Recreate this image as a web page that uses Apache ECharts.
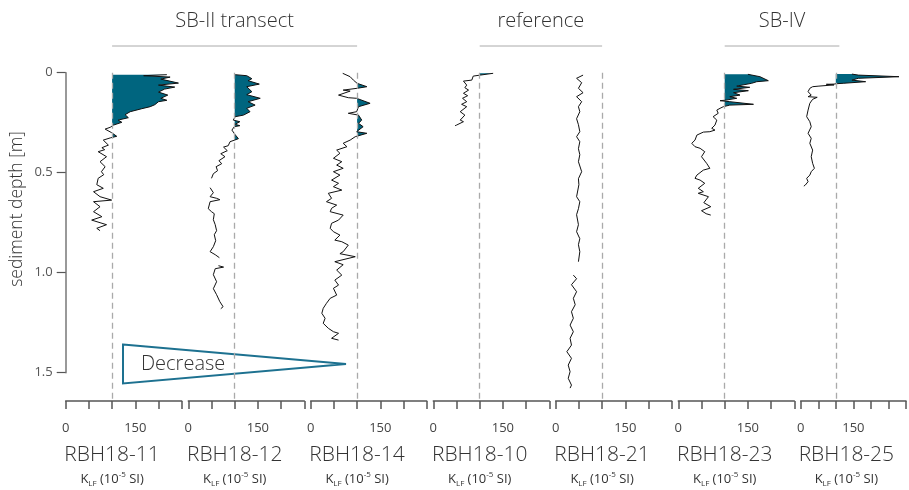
<!DOCTYPE html>
<html>
<head>
<meta charset="utf-8">
<script src="https://cdn.jsdelivr.net/npm/echarts@6/dist/echarts.min.js"></script>
<style>
  html, body { margin: 0; padding: 0; background: #fff; }
  #chart { width: 909px; height: 490px; }
</style>
</head>
<body>
<div id="chart"></div>
<script>
// core names and K_LF profiles, [K_LF, depth m]; null = gap in record
var cores = ['RBH18-11', 'RBH18-12', 'RBH18-14', 'RBH18-10', 'RBH18-21', 'RBH18-23', 'RBH18-25'];
var xMaxes = [250, 250, 250, 250, 250, 250, 300];
var xTickLabels = ['0', '150'];
var depthTicks = ['0', '0.5', '1.0', '1.5'];
var baseLine = 100;

var rbh11 = [[218,0.010],[168,0.015],[225,0.022],[205,0.032],[243,0.052],[200,0.062],[235,0.072],[213,0.082],[200,0.097],[220,0.112],[205,0.128],[218,0.138],[200,0.145],[192,0.160],[182,0.170],[164,0.180],[139,0.195],[128,0.210],[135,0.225],[113,0.237],[121,0.248],[103,0.262],[96,0.273],[85,0.282],[99,0.300],[110,0.318],[96,0.326],[81,0.337],[92,0.362],[78,0.375],[84,0.385],[70,0.395],[88,0.420],[74,0.445],[85,0.470],[77,0.495],[82,0.510],[70,0.528],[67,0.560],[81,0.578],[60,0.595],[74,0.620],[99,0.637],[60,0.645],[74,0.670],[60,0.695],[78,0.720],[56,0.737],[88,0.760],[67,0.778],[74,0.790]];
var rbh12 = [[101,0.010],[126,0.015],[137,0.030],[129,0.040],[153,0.057],[126,0.070],[137,0.095],[126,0.110],[155,0.128],[129,0.145],[144,0.162],[126,0.178],[133,0.195],[119,0.212],[101,0.220],[97,0.237],[111,0.245],[101,0.258],[111,0.265],[99,0.270],[94,0.287],[101,0.310],[108,0.330],[90,0.345],[86,0.365],[76,0.372],[84,0.390],[70,0.405],[79,0.420],[66,0.440],[72,0.455],[60,0.470],[63,0.490],[54,0.505],[50,0.528],null,[47,0.575],[54,0.600],[47,0.620],[61,0.628],[68,0.635],[47,0.645],[43,0.680],[50,0.695],[56,0.705],[54,0.735],[58,0.760],[61,0.790],[56,0.810],[59,0.840],[54,0.870],[47,0.895],[58,0.910],[67,0.925],null,[65,0.965],[76,0.972],[58,0.980],[54,1.010],[61,1.045],[54,1.080],[61,1.110],[68,1.145],[75,1.170],[70,1.180]];
var rbh14 = [[69,0.003],[85,0.020],[92,0.037],[100,0.053],[121,0.070],[100,0.078],[70,0.087],[85,0.092],[60,0.112],[63,0.120],[81,0.125],[99,0.128],[128,0.153],[103,0.170],[99,0.195],[81,0.203],[103,0.212],[110,0.237],[103,0.253],[113,0.270],[99,0.295],[121,0.303],[96,0.320],[85,0.337],[70,0.353],[78,0.370],[56,0.387],[63,0.403],[49,0.428],[67,0.445],[56,0.462],[70,0.478],[49,0.495],[63,0.512],[45,0.537],[60,0.553],[49,0.570],[67,0.587],[38,0.603],[45,0.628],[34,0.645],[56,0.662],[45,0.678],[42,0.695],[70,0.712],[60,0.737],[45,0.753],[42,0.778],[49,0.795],[63,0.812],[52,0.837],[67,0.845],[81,0.862],[70,0.895],[63,0.905],[96,0.920],[52,0.945],[70,0.960],[56,0.987],[67,1.012],[52,1.037],[60,1.062],[49,1.078],[56,1.112],[42,1.128],[34,1.153],[27,1.178],[24,1.203],[31,1.228],[27,1.253],[38,1.278],[49,1.295],[60,1.303],[45,1.328],[60,1.337]];
var rbh10 = [[129,0.003],[101,0.012],[86,0.017],[83,0.037],[65,0.042],[72,0.062],[68,0.075],[76,0.087],[65,0.103],[74,0.115],[63,0.128],[72,0.145],[61,0.158],[72,0.170],[58,0.195],[68,0.212],[58,0.237],[65,0.245],[50,0.262],[47,0.265]];
var rbh21 = [[59,0.012],[45,0.028],[56,0.050],[49,0.078],[59,0.100],[45,0.120],[56,0.145],[49,0.170],[52,0.195],[45,0.230],[49,0.260],[52,0.295],[45,0.320],[52,0.345],[49,0.380],[52,0.410],[49,0.445],[56,0.495],[49,0.530],[50,0.560],[45,0.620],[52,0.645],[49,0.680],[45,0.710],[49,0.760],[45,0.795],[52,0.830],[49,0.860],[52,0.895],[49,0.945],null,[38,1.012],[45,1.030],[34,1.060],[45,1.095],[38,1.128],[42,1.160],[34,1.195],[38,1.228],[31,1.262],[38,1.295],[31,1.328],[34,1.362],[24,1.395],[34,1.428],[27,1.462],[31,1.495],[27,1.528],[34,1.562],[31,1.577]];
var rbh23 = [[150,0.008],[176,0.020],[194,0.040],[169,0.045],[158,0.053],[126,0.067],[154,0.073],[119,0.083],[151,0.090],[119,0.100],[133,0.112],[111,0.120],[126,0.128],[103,0.137],[90,0.140],[111,0.145],[162,0.158],[111,0.162],[97,0.170],[90,0.178],[83,0.187],[86,0.203],[75,0.220],[83,0.237],[79,0.262],[72,0.278],[79,0.287],[68,0.295],[54,0.297],[40,0.312],[36,0.337],[29,0.353],[36,0.370],[47,0.378],[57,0.395],[50,0.420],[61,0.453],[68,0.478],[54,0.487],[40,0.512],[36,0.528],[47,0.537],[57,0.553],[43,0.578],[54,0.595],[43,0.603],[65,0.620],[68,0.628],[55,0.650],[70,0.670],[50,0.690],[60,0.705],[70,0.712]];
var rbh25 = [[146,0.007],[164,0.012],[280,0.020],[164,0.028],[146,0.037],[185,0.045],[121,0.053],[102,0.055],[95,0.057],[73,0.058],[95,0.061],[52,0.067],[34,0.070],[26,0.078],[21,0.095],[30,0.112],[21,0.120],[47,0.123],[34,0.133],[26,0.153],[21,0.187],[17,0.220],[26,0.245],[30,0.270],[21,0.303],[30,0.328],[26,0.353],[34,0.387],[30,0.420],[34,0.453],[39,0.478],[30,0.495],[26,0.512],[17,0.528],[21,0.545],[13,0.562],[9,0.567]];
var profiles = [rbh11, rbh12, rbh14, rbh10, rbh21, rbh23, rbh25];

var groups = ['SB-II transect', 'reference', 'SB-IV'];
var groupSpans = [[0, 2], [3, 4], [5, 6]];

// layout
var panelLeft = [65.7, 188.3, 310.7, 433.3, 555.7, 678.3, 800.7];
var panelW = 116, gTop = 72.7, gBottom = 401, pxPerM = 200;
var teal = '#00657f';
var font = "'Open Sans', sans-serif";

// regions where K_LF exceeds the baseline, closed on the baseline
function aboveRuns(pts, base) {
  var runs = [], cur = null, prev = null;
  pts.forEach(function (p) {
    if (!p) {
      if (cur) { cur.push([base, prev[1]]); runs.push(cur); cur = null; }
      prev = null;
      return;
    }
    var up = p[0] > base;
    if (prev) {
      var prevUp = prev[0] > base;
      if (up !== prevUp) {
        var t = (base - prev[0]) / (p[0] - prev[0]);
        var d = prev[1] + t * (p[1] - prev[1]);
        if (up) cur = [[base, d]];
        else { cur.push([base, d]); runs.push(cur); cur = null; }
      }
    } else if (up) {
      cur = [[base, p[1]]];
    }
    if (up) cur.push(p);
    prev = p;
  });
  if (cur) { cur.push([base, prev[1]]); runs.push(cur); }
  return runs;
}

var grids = [], xAxes = [], yAxes = [], series = [], graphics = [];

cores.forEach(function (name, i) {
  grids.push({ left: panelLeft[i], top: gTop, width: panelW, height: gBottom - gTop });
  xAxes.push({
    gridIndex: i, type: 'value', min: 0, max: xMaxes[i], interval: 50, position: 'bottom',
    splitLine: { show: false },
    axisLine: { onZero: false, lineStyle: { color: '#555', width: 1.5 } },
    axisTick: { length: 8, lineStyle: { color: '#555', width: 1.5 } },
    axisLabel: {
      margin: 21, color: '#444', fontSize: 13, fontFamily: font,
      formatter: function (v) { return xTickLabels.indexOf(String(v)) >= 0 ? String(v) : ''; }
    }
  });
  yAxes.push({
    gridIndex: i, type: 'value', min: 0, max: (gBottom - gTop) / pxPerM, inverse: true, show: false
  });

  var runs = aboveRuns(profiles[i], baseLine);
  series.push({
    type: 'custom', xAxisIndex: i, yAxisIndex: i, z: 2, silent: true,
    data: [[baseLine, 0]],
    renderItem: function (params, api) {
      return {
        type: 'group',
        children: runs.map(function (r) {
          return { type: 'polygon', shape: { points: r.map(function (q) { return api.coord(q); }) }, style: { fill: teal } };
        })
      };
    }
  });
  series.push({
    type: 'line', xAxisIndex: i, yAxisIndex: i, z: 3, silent: true,
    showSymbol: false, symbol: 'none',
    lineStyle: { color: '#111', width: 1 },
    data: profiles[i].map(function (p) { return p ? p : ['-', '-']; }),
    markLine: {
      silent: true, symbol: 'none', label: { show: false },
      lineStyle: { color: '#aaa', type: [6, 4], width: 1.3 },
      data: [{ xAxis: baseLine }]
    }
  });

  var cx = panelLeft[i] + baseLine * panelW / xMaxes[i];
  if (i === 6) cx += 7;
  graphics.push({
    type: 'text', x: cx, y: 455,
    style: { text: name, font: '300 21px ' + font, fill: '#333', align: 'center', verticalAlign: 'middle' }
  });
  graphics.push({
    type: 'text', x: cx, y: 479,
    style: {
      text: '{k|K}{s|LF} {k|(10}{p|-5}{k| SI)}', align: 'center', verticalAlign: 'middle',
      rich: {
        k: { fontSize: 13, fontFamily: font, fill: '#333', lineHeight: 17, verticalAlign: 'middle' },
        s: { fontSize: 8, fontFamily: font, fill: '#333', lineHeight: 17, verticalAlign: 'bottom' },
        p: { fontSize: 8, fontFamily: font, fill: '#333', lineHeight: 17, verticalAlign: 'top' }
      }
    }
  });
});

// left depth axis, drawn 0 - 1.5 m only
grids.push({ left: panelLeft[0], top: gTop, width: 1, height: 1.5 * pxPerM });
xAxes.push({ gridIndex: 7, type: 'value', show: false });
yAxes.push({
  gridIndex: 7, type: 'value', min: 0, max: 1.5, interval: 0.5, inverse: true,
  splitLine: { show: false },
  axisLine: { show: true, lineStyle: { color: '#777', width: 1.5 } },
  axisTick: { length: 9, lineStyle: { color: '#555', width: 1.2 } },
  axisLabel: {
    margin: 13, color: '#555', fontSize: 13, fontFamily: font,
    formatter: function (v, idx) { return depthTicks[idx]; }
  }
});
graphics.push({
  type: 'text', x: 17, y: 209, rotation: Math.PI / 2,
  style: { text: 'sediment depth [m]', font: '300 17.5px ' + font, fill: '#333', align: 'center', verticalAlign: 'middle' }
});

// group headers
groups.forEach(function (g, k) {
  var a = groupSpans[k][0], b = groupSpans[k][1];
  var x1 = panelLeft[a] + baseLine * panelW / xMaxes[a];
  var x2 = panelLeft[b] + baseLine * panelW / xMaxes[b];
  graphics.push({ type: 'line', shape: { x1: x1, y1: 46, x2: x2, y2: 46 }, style: { stroke: '#aaa', lineWidth: 1 } });
  graphics.push({
    type: 'text', x: (x1 + x2) / 2, y: 21,
    style: { text: g, font: '300 20px ' + font, fill: '#333', align: 'center', verticalAlign: 'middle' }
  });
});

// "Decrease" wedge
graphics.push({
  type: 'polygon', shape: { points: [[123, 344.5], [346, 364], [123, 383.5]] },
  style: { fill: 'none', stroke: '#1d7190', lineWidth: 2 }
});
graphics.push({
  type: 'text', x: 141, y: 364,
  style: { text: 'Decrease', font: '300 20px ' + font, fill: '#333', align: 'left', verticalAlign: 'middle' }
});

var chart = echarts.init(document.getElementById('chart'));
chart.setOption({
  animation: false,
  backgroundColor: '#fff',
  grid: grids,
  xAxis: xAxes,
  yAxis: yAxes,
  series: series,
  graphic: graphics
});
</script>
</body>
</html>
